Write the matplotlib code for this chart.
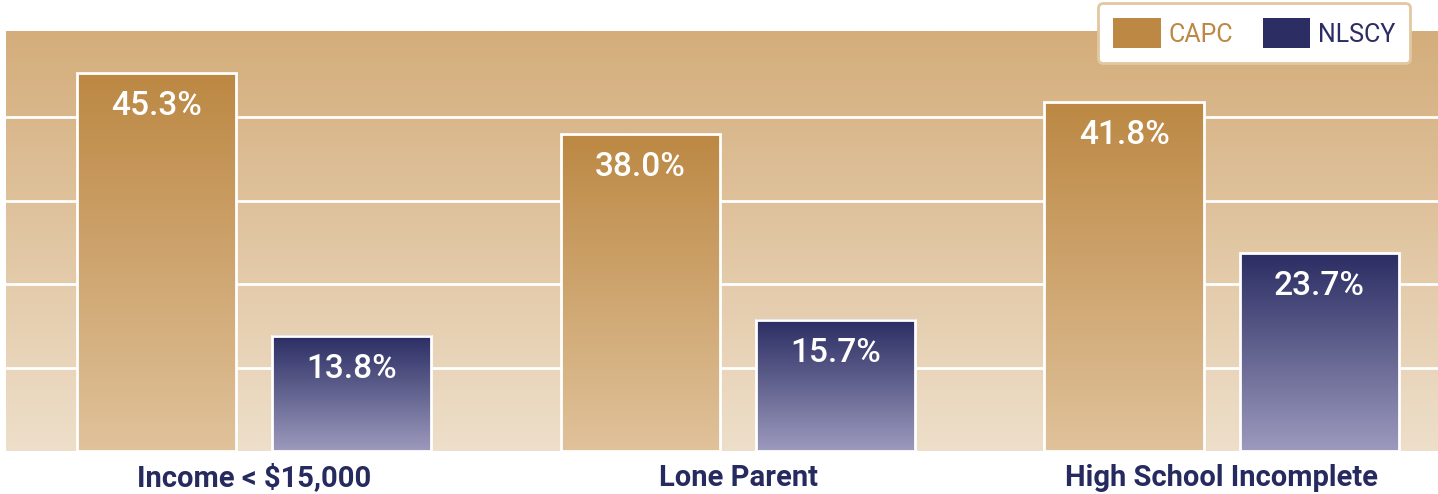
import numpy as np
import matplotlib
matplotlib.use("Agg")
import matplotlib.pyplot as plt
from matplotlib.colors import LinearSegmentedColormap
from matplotlib.patches import Patch

plt.rcParams['font.family'] = ['Roboto', 'DejaVu Sans']

# data
categories = ['Income < $15,000', 'Lone Parent', 'High School Incomplete']
series_names = ['CAPC', 'NLSCY']
capc = [45.3, 38.0, 41.8]
nlscy = [13.8, 15.7, 23.7]

# colours
capc_top, capc_bot = '#BC8843', '#E0C29B'
nlscy_top, nlscy_bot = '#2B2D63', '#9C9ABD'
bg_top, bg_bot = '#D4AD7B', '#EEDFCA'
navy = '#262A5E'

W, H = 1438, 494
fig = plt.figure(figsize=(W / 100, H / 100), dpi=100)
ax = fig.add_axes([6 / W, (H - 451) / H, 1432 / W, (451 - 31) / H])

xlim = (-0.513, 2.447)
ylim = (0, 50.3)

# background gradient
grad = np.linspace(0, 1, 256).reshape(-1, 1)
bg_cmap = LinearSegmentedColormap.from_list('bg', [bg_bot, bg_top])
ax.imshow(grad, cmap=bg_cmap, aspect='auto', origin='lower',
          extent=(xlim[0], xlim[1], ylim[0], ylim[1]), zorder=0)

# gridlines
for g in [10, 20, 30, 40]:
    ax.axhline(g, color='white', lw=2, zorder=1)

x = np.arange(len(categories))
width = 0.329
offset = 0.202

def gradient_bars(xs, vals, top, bot):
    cmap = LinearSegmentedColormap.from_list('b', [bot, top])
    bars = ax.bar(xs, vals, width, facecolor='none',
                  edgecolor='white', linewidth=2, zorder=3)
    for b, v in zip(bars, vals):
        x0 = b.get_x()
        ax.imshow(grad, cmap=cmap, aspect='auto', origin='lower',
                  extent=(x0, x0 + b.get_width(), 0, v), zorder=2)
        ax.annotate(f'{v:.1f}%', (b.get_x() + b.get_width() / 2, v),
                    xytext=(0, -33), textcoords='offset pixels',
                    ha='center', va='center', color='white',
                    fontsize=24, fontweight='medium', zorder=4)
    return bars

gradient_bars(x - offset, capc, capc_top, capc_bot)
gradient_bars(x + offset, nlscy, nlscy_top, nlscy_bot)

ax.set_xlim(*xlim)
ax.set_ylim(*ylim)
ax.set_yticks([])
ax.set_xticks(x)
ax.set_xticklabels(categories, fontsize=21, fontweight='bold', color=navy)
ax.tick_params(axis='x', length=0, pad=9)
for s in ax.spines.values():
    s.set_visible(False)

handles = [Patch(facecolor=capc_top, edgecolor='none'),
           Patch(facecolor=nlscy_top, edgecolor='none')]
leg = fig.legend(handles, series_names, loc='upper right',
                 bbox_to_anchor=(1410 / W, 1 - 3 / H), ncol=2,
                 fontsize=18, labelcolor=[capc_top, nlscy_top],
                 handlelength=1.9, handleheight=1.5, handletextpad=0.3,
                 columnspacing=1.2, borderpad=0.6, borderaxespad=0,
                 frameon=True, fancybox=True, framealpha=1)
leg.get_frame().set_edgecolor('#E2C8A2')
leg.get_frame().set_linewidth(2)

fig.savefig('out.png', dpi=100)
